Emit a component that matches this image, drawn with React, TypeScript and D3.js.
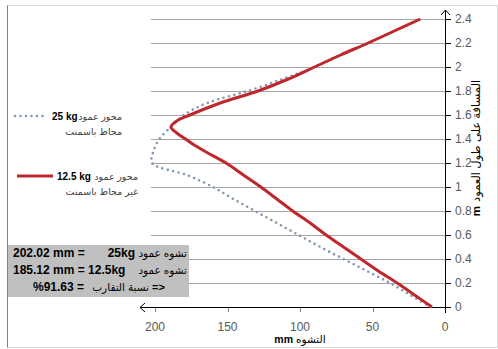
import React from "react";
import * as d3 from "d3";

const heights = [0, 0.1, 0.2, 0.3, 0.4, 0.5, 0.6, 0.7, 0.8, 0.9, 1.0, 1.1, 1.2, 1.3, 1.4, 1.5, 1.6, 1.7, 1.8, 1.9, 2.0, 2.1, 2.2, 2.3, 2.4];
const defl25 = [10, 24, 38, 54, 70, 86, 101, 116, 131, 146, 160, 178, 202, 201, 197, 189, 180, 164, 136, 112, 90, 72, 53, 35, 17];
const heights125 = [0, 0.1, 0.2, 0.3, 0.4, 0.5, 0.6, 0.7, 0.8, 0.9, 1.0, 1.1, 1.2, 1.3, 1.35, 1.4, 1.45, 1.5, 1.55, 1.6, 1.7, 1.8, 1.9, 2.0, 2.1, 2.2, 2.3, 2.4];
const defl125 = [9, 21, 33, 46, 58, 70, 82, 93, 105, 116, 127, 139, 151, 166, 173, 179, 185, 189, 185, 176, 155, 129, 108, 90, 72, 53, 35, 17];
const yTicks = [0, 0.2, 0.4, 0.6, 0.8, 1, 1.2, 1.4, 1.6, 1.8, 2, 2.2, 2.4];
const xTicks = [0, 50, 100, 150, 200];

const FONT = "'Liberation Sans', Arial, 'DejaVu Sans', sans-serif";

export default function App() {
  const x = d3.scaleLinear().domain([0, 200]).range([445, 155]);
  const y = d3.scaleLinear().domain([0, 2.4]).range([307, 19]);
  const line = d3
    .line<[number, number]>()
    .x((d) => x(d[0]))
    .y((d) => y(d[1]))
    .curve(d3.curveCatmullRom.alpha(0.5));
  const d25 = line(defl25.map((v, i) => [v, heights[i]] as [number, number])) || "";
  const d125 = line(defl125.map((v, i) => [v, heights125[i]] as [number, number])) || "";
  const fmtY = (v: number) => String(+v.toFixed(1));
  const blue = "#8497b0";
  const red = "#c0272d";

  return (
    <svg
      width={498}
      height={349}
      style={{ position: "absolute", left: 0, top: 0, background: "#fff" }}
      fontFamily={FONT}
    >
      <rect x={7.5} y={5.5} width={490} height={342} fill="#fff" stroke="#d9d9d9" />
      <line x1={7.5} x2={7.5} y1={5.5} y2={347.5} stroke="#7f7f7f" />

      {/* gridlines */}
      {yTicks.filter((t) => t > 0).map((t) => (
        <line key={"g" + t} x1={151} x2={445} y1={Math.round(y(t)) + 0.5} y2={Math.round(y(t)) + 0.5} stroke="#a6a6a6" strokeWidth={1} />
      ))}

      {/* y ticks & labels */}
      {yTicks.map((t) => (
        <g key={"yt" + t}>
          <line x1={t === 0 ? 440 : 445} x2={451} y1={Math.round(y(t)) + 0.5} y2={Math.round(y(t)) + 0.5} stroke="#000" />
          <text x={455} y={y(t) + 4} fontSize={12} fill="#595959">{fmtY(t)}</text>
        </g>
      ))}

      {/* x ticks & labels */}
      {xTicks.map((t) => (
        <g key={"xt" + t}>
          {t > 0 && <line x1={Math.round(x(t)) + 0.5} x2={Math.round(x(t)) + 0.5} y1={307} y2={312} stroke="#7f7f7f" />}
          <text x={x(t)} y={331} fontSize={12} fill="#595959" textAnchor="middle">{t}</text>
        </g>
      ))}

      {/* axes */}
      <line x1={140} x2={445.5} y1={307.5} y2={307.5} stroke="#000" strokeWidth={1} />
      <path d="M145,303 L140,307.5 L145,312" fill="none" stroke="#000" />
      <line x1={445.5} x2={445.5} y1={10} y2={313} stroke="#000" strokeWidth={1} />
      <path d="M441,15 L445.5,10 L450,15" fill="none" stroke="#000" />

      {/* series */}
      <path d={d25} fill="none" stroke={blue} strokeWidth={2.6} strokeLinecap="round" strokeDasharray="0 5.5" />
      <path d={d125} fill="none" stroke={red} strokeWidth={3} strokeLinejoin="round" />

      {/* axis titles */}
      <text x={300} y={343} fontSize={10.5} textAnchor="middle" fill="#000">
        <tspan fontWeight="bold">mm</tspan>
        <tspan dx={3}>{"التشوه"}</tspan>
      </text>
      <text transform="translate(480,148) rotate(-90)" fontSize={11.5} textAnchor="middle" fill="#000">
        <tspan fontWeight="bold">m</tspan>
        <tspan dx={4}>{"المسافة على طول العمود"}</tspan>
      </text>

      {/* legend 25kg */}
      <line x1={15} x2={48} y1={116} y2={116} stroke={blue} strokeWidth={2.6} strokeLinecap="round" strokeDasharray="0 5.5" />
      <text x={52} y={120} fontSize={10} fontWeight="bold" fill="#000">25 kg</text>
      <text x={122} y={120} fontSize={9.5} fill="#404040" textAnchor="end">{"محور عمود"}</text>
      <text x={122} y={135} fontSize={9.5} fill="#404040" textAnchor="end">{"محاط باسمنت"}</text>

      {/* legend 12.5kg */}
      <line x1={17} x2={53} y1={176} y2={176} stroke={red} strokeWidth={3} />
      <text x={57} y={180} fontSize={10} fontWeight="bold" fill="#000">12.5 kg</text>
      <text x={138} y={180} fontSize={9.5} fill="#404040" textAnchor="end">{"محور عمود"}</text>
      <text x={138} y={195} fontSize={9.5} fill="#404040" textAnchor="end">{"غير محاط باسمنت"}</text>

      {/* annotation box */}
      <rect x={8} y={245} width={181} height={52} fill="#c0c0c0" />
      <text x={13} y={257} fontSize={12} fontWeight="bold" fill="#000">202.02 mm =</text>
      <text x={135} y={257} fontSize={12} fontWeight="bold" fill="#000" textAnchor="end">25kg</text>
      <text x={187} y={257} fontSize={10.5} fill="#000" textAnchor="end">{"تشوه عمود"}</text>
      <text x={13} y={274} fontSize={12} fontWeight="bold" fill="#000">185.12 mm = 12.5kg</text>
      <text x={187} y={274} fontSize={10.5} fill="#000" textAnchor="end">{"تشوه عمود"}</text>
      <text x={33} y={291} fontSize={12} fontWeight="bold" fill="#000">%91.63 =</text>
      <text x={149} y={291} fontSize={10.5} fill="#000" textAnchor="end">{"نسبة التقارب"}</text>
      <text x={152} y={291} fontSize={11} fontWeight="bold" fill="#000">{"=>"}</text>
    </svg>
  );
}
